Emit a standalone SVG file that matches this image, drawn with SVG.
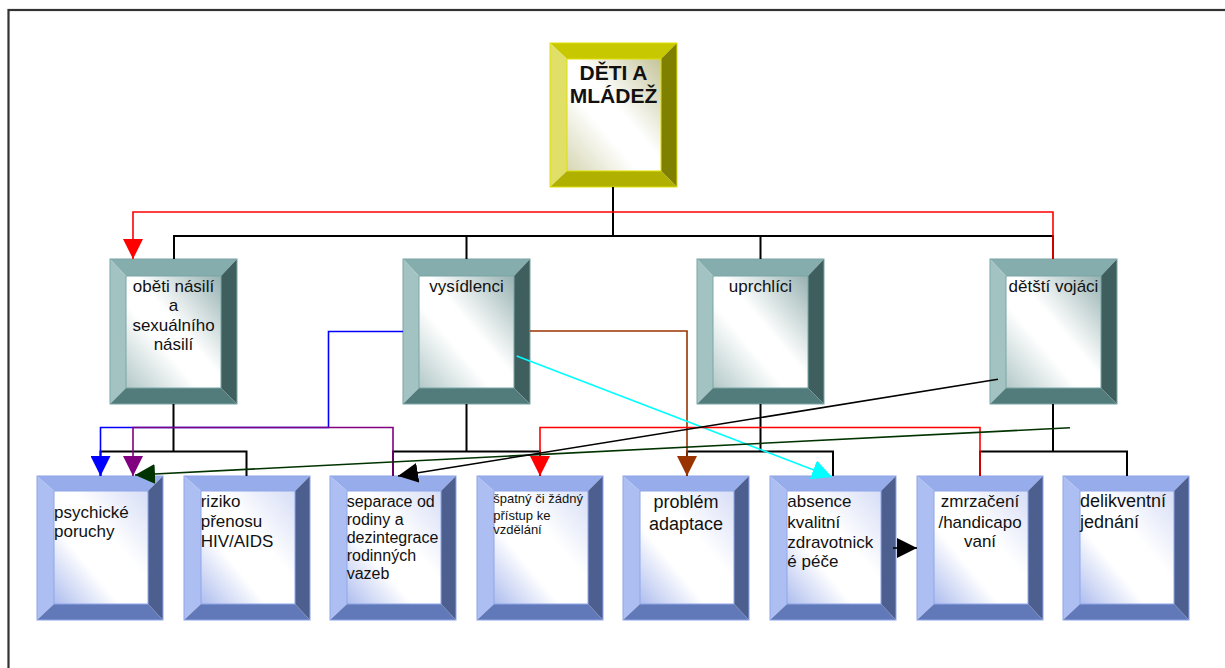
<svg xmlns="http://www.w3.org/2000/svg" xmlns:xlink="http://www.w3.org/1999/xlink" width="1225" height="668" viewBox="0 0 1225 668">
<style>
text{font-family:"Liberation Sans",Arial,sans-serif;fill:#111;}
.mid{font-size:17px;text-anchor:middle;}
.bot{font-size:17px;}
.tree{fill:none;stroke:#000;stroke-width:2;}
.c{fill:none;stroke-width:1.6;}
</style>
<defs>
<linearGradient id="gB" x1="1" y1="0" x2="0" y2="1">
<stop offset="0" stop-color="#d6ddf6"/><stop offset="0.4" stop-color="#ffffff"/><stop offset="0.65" stop-color="#ffffff"/><stop offset="1" stop-color="#aebdee"/>
</linearGradient>
<linearGradient id="gM" x1="1" y1="0" x2="0" y2="1">
<stop offset="0" stop-color="#97b1b1"/><stop offset="0.45" stop-color="#ffffff"/><stop offset="0.62" stop-color="#ffffff"/><stop offset="1" stop-color="#b3c8c8"/>
</linearGradient>
<linearGradient id="gT" x1="1" y1="0" x2="0" y2="1">
<stop offset="0" stop-color="#c4c49a"/><stop offset="0.45" stop-color="#ffffff"/><stop offset="0.62" stop-color="#ffffff"/><stop offset="1" stop-color="#d6d6b4"/>
</linearGradient>
<g id="boxB">
<polygon points="0,0 126,0 111,15 17,15" fill="#97acea"/>
<polygon points="0,0 17,15 17,128 0,144" fill="#adbff2"/>
<polygon points="126,0 126,144 111,128 111,15" fill="#4d5f8f"/>
<polygon points="0,144 17,128 111,128 126,144" fill="#6179b8"/>
<rect x="17" y="15" width="94" height="113" fill="url(#gB)" stroke="#8fa5e8" stroke-width="1"/>
<rect x="0" y="0" width="126" height="144" fill="none" stroke="#8fa5e8" stroke-width="1"/>
</g>
<g id="boxM">
<polygon points="0,0 127,0 111,17 16,17" fill="#85adad"/>
<polygon points="0,0 16,17 16,129 0,145" fill="#a3c3c3"/>
<polygon points="127,0 127,145 111,129 111,17" fill="#3f5f5f"/>
<polygon points="0,145 16,129 111,129 127,145" fill="#527b7b"/>
<rect x="16" y="17" width="95" height="112" fill="url(#gM)" stroke="#7aa6a6" stroke-width="1"/>
<rect x="0" y="0" width="127" height="145" fill="none" stroke="#7aa6a6" stroke-width="1"/>
</g>
<g id="boxT">
<polygon points="0,0 127,0 111,16 17,16" fill="#c8c800"/>
<polygon points="0,0 17,16 17,128 0,144" fill="#e0e068"/>
<polygon points="127,0 127,144 111,128 111,16" fill="#808000"/>
<polygon points="0,144 17,128 111,128 127,144" fill="#b0b000"/>
<rect x="17" y="16" width="94" height="112" fill="url(#gT)" stroke="#e0e000" stroke-width="1"/>
<rect x="0" y="0" width="127" height="144" fill="none" stroke="#e0e000" stroke-width="1"/>
</g>
<marker id="aRed" viewBox="0 0 20 20" markerWidth="20" markerHeight="20" markerUnits="userSpaceOnUse" refX="20" refY="10" orient="auto"><path d="M0,0 L20,10 L0,20 z" fill="#ff0000"/></marker>
<marker id="aBlue" viewBox="0 0 20 20" markerWidth="20" markerHeight="20" markerUnits="userSpaceOnUse" refX="20" refY="10" orient="auto"><path d="M0,0 L20,10 L0,20 z" fill="#0000ff"/></marker>
<marker id="aPurple" viewBox="0 0 20 20" markerWidth="20" markerHeight="20" markerUnits="userSpaceOnUse" refX="20" refY="10" orient="auto"><path d="M0,0 L20,10 L0,20 z" fill="#800080"/></marker>
<marker id="aBrown" viewBox="0 0 20 20" markerWidth="20" markerHeight="20" markerUnits="userSpaceOnUse" refX="20" refY="10" orient="auto"><path d="M0,0 L20,10 L0,20 z" fill="#993300"/></marker>
<marker id="aCyan" viewBox="0 0 20 20" markerWidth="20" markerHeight="20" markerUnits="userSpaceOnUse" refX="20" refY="10" orient="auto"><path d="M0,0 L20,10 L0,20 z" fill="#00ffff"/></marker>
<marker id="aGreen" viewBox="0 0 20 20" markerWidth="20" markerHeight="20" markerUnits="userSpaceOnUse" refX="20" refY="10" orient="auto"><path d="M0,0 L20,10 L0,20 z" fill="#003300"/></marker>
<marker id="aBlack" viewBox="0 0 20 20" markerWidth="20" markerHeight="20" markerUnits="userSpaceOnUse" refX="20" refY="10" orient="auto"><path d="M0,0 L20,10 L0,20 z" fill="#000000"/></marker>
</defs>
<rect width="1225" height="668" fill="#ffffff"/>
<rect x="8.5" y="10" width="1240" height="700" fill="none" stroke="#333" stroke-width="2.2"/>

<g id="deti-a-mladez" transform="translate(550,43)">
<use xlink:href="#boxT"/>
<text x="63.5" y="37" style="font-size:21px;font-weight:bold;text-anchor:middle">DĚTI A</text>
<text x="63.5" y="59.7" style="font-size:21px;font-weight:bold;text-anchor:middle">MLÁDEŽ</text>
</g>

<g id="obeti-nasili" transform="translate(110,259)">
<use xlink:href="#boxM"/>
<text class="mid" x="63.5" y="32.7">oběti násilí</text>
<text class="mid" x="63.5" y="52.2">a</text>
<text class="mid" x="63.5" y="71.7">sexuálního</text>
<text class="mid" x="63.5" y="91.2">násilí</text>
</g>
<g id="vysidlenci" transform="translate(403,259)">
<use xlink:href="#boxM"/>
<text class="mid" x="63.5" y="32.7">vysídlenci</text>
</g>
<g id="uprchlici" transform="translate(697,259)">
<use xlink:href="#boxM"/>
<text class="mid" x="63.5" y="32.7">uprchlíci</text>
</g>
<g id="detsti-vojaci" transform="translate(990,259)">
<use xlink:href="#boxM"/>
<text class="mid" x="63.5" y="32.7">dětští vojáci</text>
</g>

<g id="psychicke-poruchy" transform="translate(37,476)">
<use xlink:href="#boxB"/>
<text class="bot" x="17" y="42.3">psychické</text>
<text class="bot" x="17" y="60.7">poruchy</text>
</g>
<g id="riziko-hiv" transform="translate(184,476)">
<use xlink:href="#boxB"/>
<text class="bot" x="16.7" y="31.3">riziko</text>
<text class="bot" x="16.7" y="51.3">přenosu</text>
<text class="bot" x="16.7" y="70.7">HIV/AIDS</text>
</g>
<g id="separace" transform="translate(330,476)">
<use xlink:href="#boxB"/>
<text x="16.7" y="30.7" style="font-size:16px">separace od</text>
<text x="16.7" y="49" style="font-size:16px">rodiny a</text>
<text x="16.7" y="66.7" style="font-size:16px">dezintegrace</text>
<text x="16.7" y="85" style="font-size:16px">rodinných</text>
<text x="16.7" y="103.3" style="font-size:16px">vazeb</text>
</g>
<g id="spatny-pristup" transform="translate(477,476)">
<use xlink:href="#boxB"/>
<text x="16.3" y="27.3" style="font-size:13px">špatný či žádný</text>
<text x="16.3" y="44" style="font-size:13px">přístup ke</text>
<text x="16.3" y="58" style="font-size:13px">vzdělání</text>
</g>
<g id="problem-adaptace" transform="translate(623,476)">
<use xlink:href="#boxB"/>
<text x="63" y="32.3" style="font-size:18px;text-anchor:middle">problém</text>
<text x="63" y="54" style="font-size:18px;text-anchor:middle">adaptace</text>
</g>
<g id="absence-pece" transform="translate(770,476)">
<use xlink:href="#boxB"/>
<text class="bot" x="17.3" y="31.3">absence</text>
<text class="bot" x="17.3" y="51.7">kvalitní</text>
<text class="bot" x="17.3" y="71.7">zdravotnick</text>
<text class="bot" x="17.3" y="90.7">é péče</text>
</g>
<g id="zmrzaceni" transform="translate(917,476)">
<use xlink:href="#boxB"/>
<text class="bot" x="63" y="31.3" text-anchor="middle">zmrzačení</text>
<text class="bot" x="63" y="51.7" text-anchor="middle">/handicapo</text>
<text class="bot" x="63" y="70.7" text-anchor="middle">vaní</text>
</g>
<g id="delikventni-jednani" transform="translate(1063,476)">
<use xlink:href="#boxB"/>
<text x="17" y="31.3" style="font-size:18px">delikventní</text>
<text x="17" y="51.7" style="font-size:18px">jednání</text>
</g>

<g id="connectors">
<path class="tree" d="M613,187 V236 M174,259 V236 H1053 V259 M466.5,236 V259 M760.5,236 V259"/>
<path class="tree" d="M173.5,404 V451.5 M100.5,476 V451.5 H246.5 V476"/>
<path class="tree" d="M466.5,404 V451.5 M393,476 V451.5 H540 V476"/>
<path class="tree" d="M760.5,404 V451.5 M687,476 V451.5 H833 V476"/>
<path class="tree" d="M1053,404 V451.5 M980,476 V451.5 H1127 V476"/>
<path class="c" stroke="#ff0000" d="M1053,259 V212 H133 V259" marker-end="url(#aRed)"/>
<path class="c" stroke="#0000ff" d="M403,331.5 H328.5 V427.5 H100.5 V476" marker-end="url(#aBlue)"/>
<path class="c" stroke="#800080" d="M393,476 V427.5 H133 V476" marker-end="url(#aPurple)"/>
<path class="c" stroke="#993300" d="M530,331 H687 V476" marker-end="url(#aBrown)"/>
<path class="c" stroke="#00ffff" d="M516.7,356 L832,477" marker-end="url(#aCyan)"/>
<path class="c" stroke="#ff0000" d="M980,476 V427.5 H540 V476" marker-end="url(#aRed)"/>
<path class="c" stroke="#003300" d="M1070,427.7 L135,475" marker-end="url(#aGreen)"/>
<path class="c" stroke="#000000" d="M998,379.3 L398,476" marker-end="url(#aBlack)"/>
<path class="c" stroke="#000000" d="M893,548 L917,548" marker-end="url(#aBlack)"/>
</g>
</svg>
